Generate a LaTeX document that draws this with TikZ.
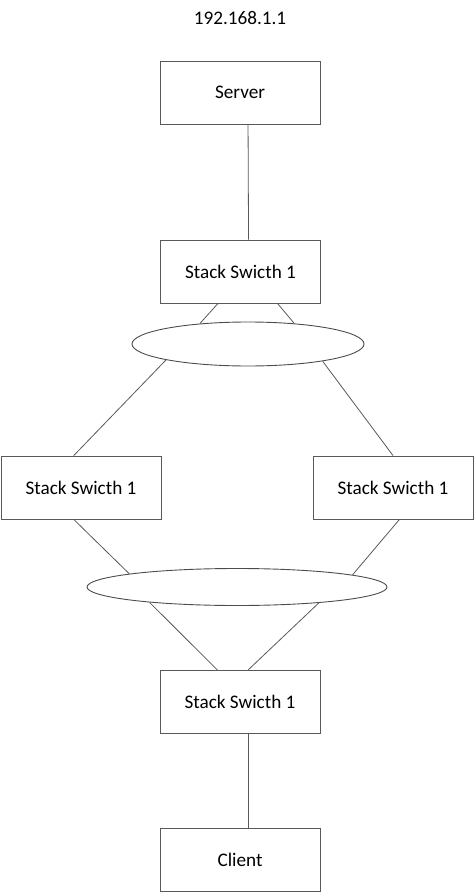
\documentclass[tikz,border=0pt]{standalone}
\usepackage{fontspec}
\setmainfont{Carlito}
\usetikzlibrary{shapes.geometric, calc}

\begin{document}
\begin{tikzpicture}[
  x=1pt, y=-1pt,
  % Base styles
  wire/.style={draw=black!65, line width=0.8pt},
  devbox/.style={rectangle, draw=black!65, line width=0.9pt, minimum width=160pt, minimum height=63pt, inner sep=0pt, font=\fontsize{19.2}{22}\selectfont},
  ringshape/.style={ellipse, draw=black!70, line width=0.9pt, inner sep=0pt},
  iplabel/.style={font=\fontsize{19.2}{22}\selectfont, inner sep=0pt}
]
  \useasboundingbox (0,0) rectangle (474,893);

  % Address label
  \node[iplabel] (ip) at (240,18) {192.168.1.1};

  % Boxes
  \node[devbox] (server) at (240,92.5) {Server};
  \node[devbox] (swtop) at (240.5,271.5) {Stack Swicth 1};
  \node[devbox] (swleft) at (81,487.5) {Stack Swicth 1};
  \node[devbox] (swright) at (393,487.5) {Stack Swicth 1};
  \node[devbox] (swbottom) at (240,702) {Stack Swicth 1};
  \node[devbox] (client) at (240,860) {Client};

  % Stack rings
  \node[ringshape, minimum width=232pt, minimum height=44pt] (ringa) at (248,344) {};
  \node[ringshape, minimum width=300pt, minimum height=37pt] (ringb) at (237,587) {};

  % Server to top switch
  \draw[wire] ($(server.south west)!0.55!(server.south east)$) -- ($(swtop.north west)!0.55!(swtop.north east)$);

  % Top switch to first ring
  \draw[wire] ($(swtop.south west)!0.36!(swtop.south east)$) -- (ringa.157.8);
  \draw[wire] ($(swtop.south west)!0.73!(swtop.south east)$) -- (ringa.24);

  % First ring to side switches
  \draw[wire] (ringa.191.6) -- ($(swleft.north west)!0.455!(swleft.north east)$);
  \draw[wire] (ringa.-13) -- ($(swright.north west)!0.5!(swright.north east)$);

  % Side switches to second ring
  \draw[wire] ($(swleft.south west)!0.455!(swleft.south east)$) -- (ringb.173.8);
  \draw[wire] ($(swright.south west)!0.54!(swright.south east)$) -- (ringb.6.3);

  % Second ring to bottom switch
  \draw[wire] (ringb.190.9) -- ($(swbottom.north west)!0.36!(swbottom.north east)$);
  \draw[wire] (ringb.-11.5) -- ($(swbottom.north west)!0.55!(swbottom.north east)$);

  % Bottom switch to client
  \draw[wire] ($(swbottom.south west)!0.55!(swbottom.south east)$) -- ($(client.north west)!0.55!(client.north east)$);

\end{tikzpicture}
\end{document}
